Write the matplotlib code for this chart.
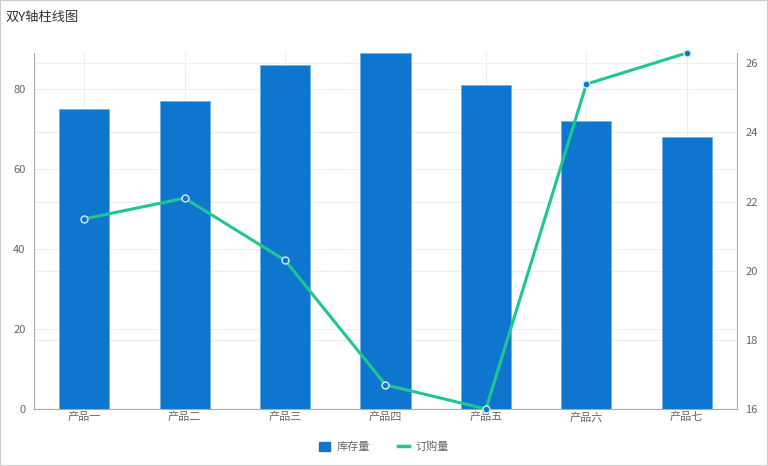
import numpy as np
import matplotlib.pyplot as plt
from matplotlib.patches import Rectangle
from matplotlib.lines import Line2D

plt.rcParams['font.family'] = ['Noto Sans CJK SC', 'DejaVu Sans']

categories = ['产品一', '产品二', '产品三', '产品四', '产品五', '产品六', '产品七']
stock = [75, 77, 86, 89, 81, 72, 68]
orders = [21.5, 22.1, 20.3, 16.7, 16.0, 25.4, 26.3]
left_ticks = [0, 20, 40, 60, 80]
right_ticks = [16, 18, 20, 22, 24, 26]

bar_color = '#0e76cf'
line_color = '#1fc78f'
grid_color = '#eeeeee'
text_color = '#666666'
spine_color = '#aaaaaa'

fig = plt.figure(figsize=(7.68, 4.66), dpi=100)
ax = fig.add_axes([34 / 768, 1 - 409 / 466, (737 - 34) / 768, (409 - 53) / 466])
ax2 = ax.twinx()

lmin, lmax = 0, max(stock)
rmin, rmax = min(orders), max(orders)

x = np.arange(len(categories))
ax.bar(x, stock, width=0.5, color=bar_color, edgecolor='#6fb0ea', linewidth=0.6, zorder=2)
ax.set_xlim(-0.5, len(categories) - 0.5)
ax.set_ylim(lmin, lmax)
ax.set_yticks(left_ticks)
ax.set_xticks(x)
ax.set_xticklabels(categories)

ax2.plot(x, orders, color=line_color, linewidth=2.2, marker='o', markersize=5,
         markerfacecolor=bar_color, markeredgecolor='#d8ecfb', markeredgewidth=1,
         zorder=3, clip_on=False)
ax2.set_ylim(rmin, rmax)
ax2.set_yticks(right_ticks)

# grid lines for both axes, drawn on the bar axes so they stay behind the bars
for t in left_ticks:
    ax.axhline(t, color=grid_color, linewidth=0.8, zorder=0)
for t in right_ticks:
    ax.axhline(lmin + (t - rmin) / (rmax - rmin) * (lmax - lmin), color=grid_color,
               linewidth=0.8, zorder=0)
for xi in x:
    ax.axvline(xi, color=grid_color, linewidth=0.8, zorder=0)

ax.set_zorder(0)
ax2.set_zorder(1)
ax2.patch.set_visible(False)

for a in (ax, ax2):
    a.spines['top'].set_visible(False)
    a.tick_params(length=0, labelsize=8, labelcolor=text_color, pad=6)
ax.spines['left'].set_color(spine_color)
ax.spines['bottom'].set_color(spine_color)
ax.spines['right'].set_visible(False)
ax2.spines['left'].set_visible(False)
ax2.spines['bottom'].set_visible(False)
ax2.spines['right'].set_color(spine_color)
ax.tick_params(axis='x', pad=2)

fig.text(6 / 768, 1 - 17 / 466, '双Y轴柱线图', fontsize=9.5, color='#333333', va='center', ha='left')

handles = [Rectangle((0, 0), 1, 1, color=bar_color),
           Line2D([0], [0], color=line_color, linewidth=2.5)]
fig.legend(handles, ['库存量', '订购量'], loc='center', bbox_to_anchor=(0.5, 1 - 447 / 466),
           ncol=2, frameon=False, fontsize=8, labelcolor=text_color,
           handlelength=1.0, handleheight=0.8, columnspacing=2.5, handletextpad=0.6)

fig.add_artist(Rectangle((0, 0), 1, 1, transform=fig.transFigure, fill=False,
                         edgecolor='#cccccc', linewidth=1.5))

fig.savefig('out.png', dpi=100)
